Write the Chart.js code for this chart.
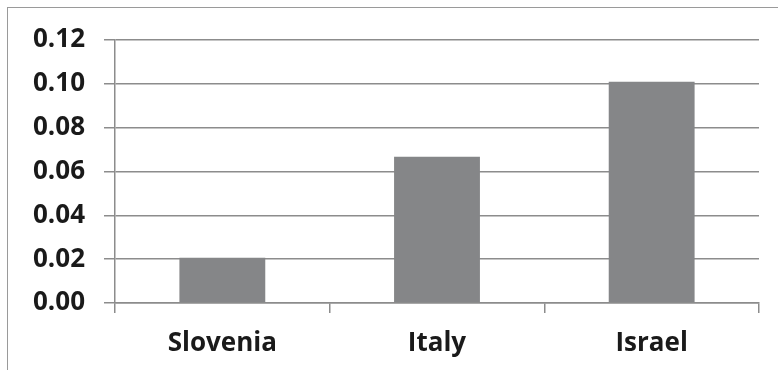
<!DOCTYPE html>
<html>
<head>
<meta charset="utf-8">
<script src="https://cdn.jsdelivr.net/npm/chart.js@4"></script>
<style>
  html, body { margin: 0; padding: 0; background: #fff; overflow: hidden; }
  #wrap { position: relative; width: 778px; height: 370px; }
  #frame { position: absolute; left: 7px; top: 7px; width: 800px; height: 400px; border: 1px solid #9a9a9a; box-sizing: border-box; }
  canvas { position: absolute; left: 0; top: 0; }
</style>
</head>
<body>
<div id="wrap">
  <div id="frame"></div>
  <canvas id="chart" width="778" height="370"></canvas>
</div>
<script>
const countries = ['Slovenia', 'Italy', 'Israel'];
const values = [0.0207, 0.0667, 0.101];
const yTicks = [0, 0.02, 0.04, 0.06, 0.08, 0.10, 0.12];

const labelFont = { family: 'Open Sans', size: 26, weight: 'bold' };
const lineColor = '#8c8c8c';

new Chart(document.getElementById('chart'), {
  type: 'bar',
  data: {
    labels: countries,
    datasets: [{ data: values, backgroundColor: '#858688', borderWidth: 0, barPercentage: 0.4, categoryPercentage: 1 }]
  },
  options: {
    responsive: false,
    animation: false,
    layout: { padding: { top: 40, right: 19, left: 0, bottom: 0 } },
    plugins: { legend: { display: false }, tooltip: { enabled: false } },
    scales: {
      x: {
        grid: { offset: true, drawOnChartArea: false, drawTicks: true, tickLength: 10, color: lineColor, lineWidth: 1.5 },
        border: { display: true, color: lineColor, width: 1.5 },
        ticks: { color: '#1a1a1a', font: labelFont, padding: 15 },
        afterFit: (s) => { s.height = 67; }
      },
      y: {
        min: yTicks[0],
        max: yTicks[yTicks.length - 1],
        afterBuildTicks: (s) => { s.ticks = yTicks.map((v) => ({ value: v })); },
        grid: { color: lineColor, lineWidth: 1.5, tickLength: 11 },
        border: { display: true, color: lineColor, width: 1.5 },
        ticks: { color: '#1a1a1a', font: labelFont, padding: 19, callback: (v) => Number(v).toFixed(2) },
        afterFit: (s) => { s.width = 115; }
      }
    }
  }
});
</script>
</body>
</html>
